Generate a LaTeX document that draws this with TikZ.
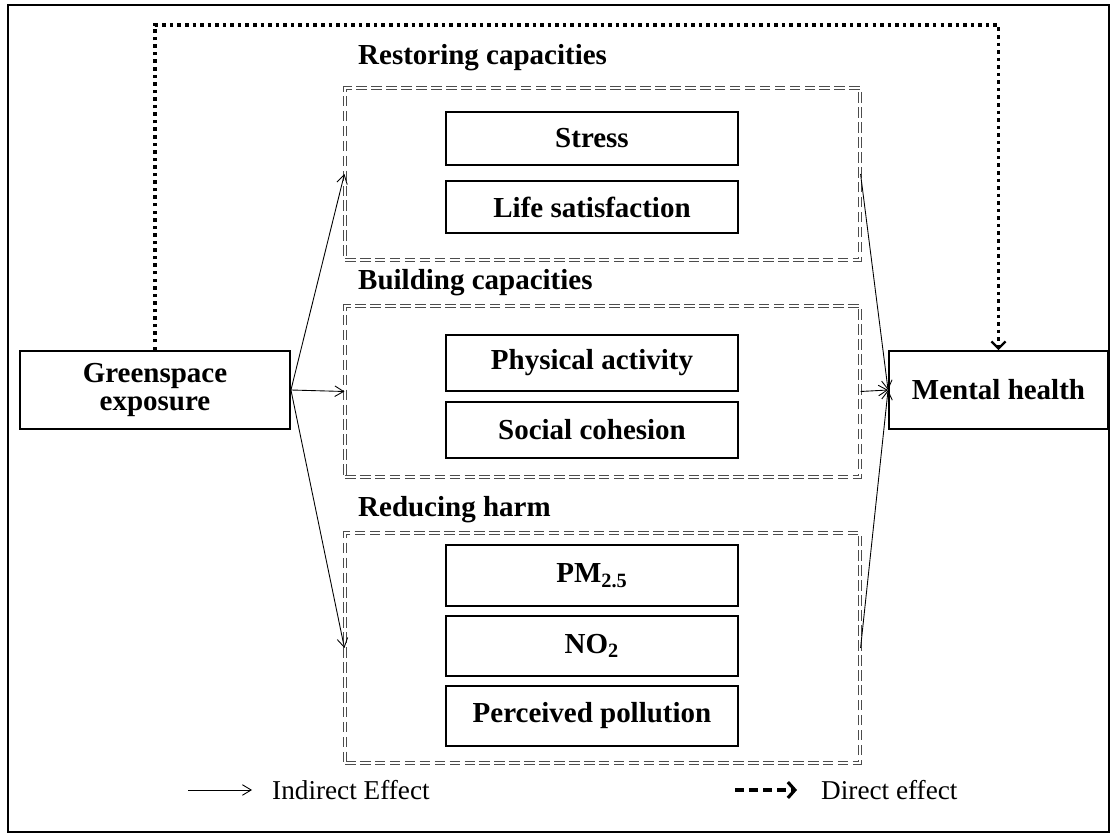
\documentclass[tikz,border=0pt]{standalone}
\usepackage{fontspec}
\setmainfont{Liberation Serif}
\usetikzlibrary{arrows.meta}

\tikzset{
  lbl/.style={font=\bfseries\fontsize{16.5}{16}\selectfont},
  box/.style={draw, line width=1.1pt, minimum width=5.84cm, inner sep=0pt, lbl},
  mainbox/.style={draw, line width=1.1pt, minimum height=1.56cm, align=center, inner sep=0pt, lbl},
  group/.style={draw=black!70, double, double distance=1.2pt, line width=0.7pt, dash pattern=on 6pt off 2.5pt, inner sep=0pt, minimum width=10.3cm},
  indirect/.style={line width=0.5pt, -{Straight Barb[length=5pt,width=6pt]}},
  direct/.style={line width=2pt, dash pattern=on 2pt off 2.3pt, -{Straight Barb[length=4pt,width=8pt,line width=1.3pt]}},
  legtext/.style={anchor=west, font=\fontsize{15.5}{18}\selectfont}
}

\begin{document}
\begin{tikzpicture}[x=0.02cm, y=-0.02cm]
        \useasboundingbox (0,0) rectangle (1110,834);
        % Cadre
        \draw[line width=1.1pt] (8,5) rectangle (1109,832);

        % Exposition et effet
        \node[mainbox, minimum width=5.4cm] (green) at (155,390) {Greenspace\\exposure};
        \node[mainbox, minimum width=4.38cm] (mental) at (998.5,390) {Mental health};

        % Groupes de mediateurs
        \node[group, minimum height=3.44cm] (restore) at (602.5,174) {};
        \node[group, minimum height=3.42cm] (build) at (602.5,391.5) {};
        \node[group, minimum height=4.6cm] (reduce) at (602.5,648) {};
        \node[lbl, anchor=west] (restoretitle) at (352,58) {Restoring capacities};
        \node[lbl, anchor=west] (buildtitle) at (352,283) {Building capacities};
        \node[lbl, anchor=west] (reducetitle) at (352,510) {Reducing harm};

        % Mediateurs
        \foreach \ypos/\id/\txt/\hgt in {138.5/stress/{Stress}/1.06cm, 207/life/{Life satisfaction}/1.04cm,
          363/phys/{Physical activity}/1.12cm, 430/social/{Social cohesion}/1.12cm,
          575.5/pm/{PM\textsubscript{2.5}}/1.22cm, 646/no/{NO\textsubscript{2}}/1.2cm, 716/perc/{Perceived pollution}/1.2cm} {
        \node[box, minimum height=\hgt] (\id) at (592,\ypos) {\txt};
        }

        % Effets indirects
        \foreach \grp in {restore, build, reduce} {
        \draw[indirect] (green.east) -- (\grp.west);
        \draw[indirect] (\grp.east) -- (mental.west);
        }

        % Effet direct
        \coordinate (top) at (578,25);
        \draw[direct] (green.north) |- (top) -| (mental.north);

        % Legende
        \coordinate (ia) at (188,790);
        \coordinate (ib) at (252,790);
        \draw[indirect] (ia) -- (ib);
        \node[legtext] (itext) at (266,790) {Indirect Effect};
        \coordinate (da) at (735,790);
        \coordinate (db) at (797,790);
        \draw[line width=1.8pt, dash pattern=on 5pt off 3pt, -{Straight Barb[length=4pt,width=9pt,line width=1.8pt]}] (da) -- (db);
        \node[legtext] (dtext) at (815,790) {Direct effect};
\end{tikzpicture}
\end{document}
